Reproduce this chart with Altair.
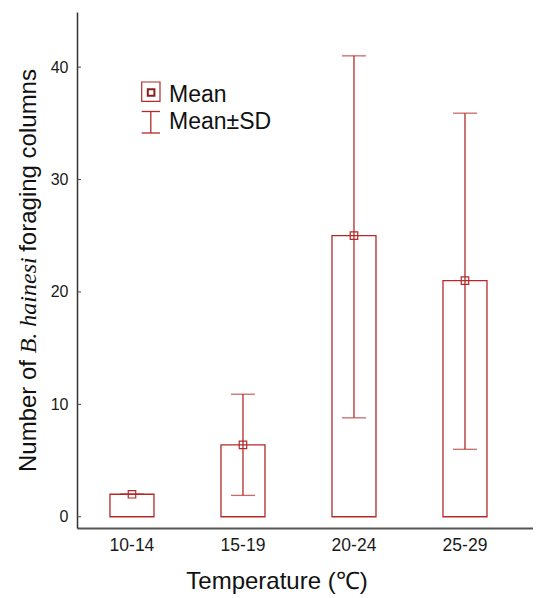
import altair as alt
import pandas as pd

# ---- data ----
categories = ["10-14", "15-19", "20-24", "25-29"]
means = [2.0, 6.4, 25.0, 21.0]
sd_low = [2.0, 1.9, 8.8, 6.0]
sd_high = [2.0, 10.9, 41.0, 35.9]
y_ticks = [0, 10, 20, 30, 40]

df = pd.DataFrame({"cat": categories, "mean": means, "lo": sd_low, "hi": sd_high})
ticks_df = pd.DataFrame({"v": y_ticks})

RED = "#B22A2A"
DARK_RED = "#8B1C1C"
FONT = "Liberation Sans"
W, H = 456, 516

xscale = alt.Scale(domain=categories, paddingInner=0.6, paddingOuter=0.354, align=0.417)
yscale = alt.Scale(domain=[-1, 44.9], nice=False, zero=False)

x_enc = alt.X("cat:N", scale=xscale, sort=categories,
              axis=alt.Axis(title=None, labelAngle=0, ticks=False, tickSize=0,
                            labelPadding=8, labelFontSize=17.5, labelFont=FONT,
                            labelColor="#1a1a1a", domainColor="#555555",
                            domainWidth=2))
y_axis = alt.Axis(title=None, values=y_ticks, ticks=False, tickSize=0,
                  labelPadding=9, labelFontSize=16, labelFont=FONT,
                  labelColor="#1a1a1a", domainColor="#333333", domainWidth=1.5,
                  grid=False)

base = alt.Chart(df)

bars = base.mark_bar(fill="white", fillOpacity=0, stroke=RED, strokeWidth=1.3,
                     size=44).encode(
    x=x_enc,
    y=alt.Y("mean:Q", scale=yscale, axis=y_axis),
    y2=alt.value(H),
)

err = base.mark_rule(color=RED, strokeWidth=1.3).encode(
    x=alt.X("cat:N", scale=xscale, sort=categories),
    y=alt.Y("lo:Q", scale=yscale),
    y2="hi:Q",
)

cap_hi = base.mark_tick(color=RED, thickness=1.3, size=24).encode(
    x=alt.X("cat:N", scale=xscale, sort=categories),
    y=alt.Y("hi:Q", scale=yscale),
)
cap_lo = base.mark_tick(color=RED, thickness=1.3, size=24).encode(
    x=alt.X("cat:N", scale=xscale, sort=categories),
    y=alt.Y("lo:Q", scale=yscale),
)

pts = base.mark_point(shape="square", filled=False, color=RED, size=56,
                      strokeWidth=1.2, opacity=1).encode(
    x=alt.X("cat:N", scale=xscale, sort=categories),
    y=alt.Y("mean:Q", scale=yscale),
)

ytick_marks = alt.Chart(ticks_df).mark_rule(color="#444444", strokeWidth=1).encode(
    y=alt.Y("v:Q", scale=yscale),
    x=alt.value(0), x2=alt.value(4),
)

one = pd.DataFrame({"k": [0]})

def txt(s, x, y, **kw):
    return alt.Chart(one).mark_text(**kw).encode(
        x=alt.value(x), y=alt.value(y), text=alt.value(s))

# legend
leg_box = alt.Chart(one).mark_rect(fill="white", fillOpacity=0, stroke=RED,
                                   strokeWidth=1.2).encode(
    x=alt.value(64.7), x2=alt.value(83), y=alt.value(70), y2=alt.value(89.3))
leg_inner = alt.Chart(one).mark_rect(fill="white", fillOpacity=0, stroke=DARK_RED,
                                     strokeWidth=2).encode(
    x=alt.value(70.8), x2=alt.value(77.4), y=alt.value(77.3), y2=alt.value(83.7))
leg_v = alt.Chart(one).mark_rule(color=RED, strokeWidth=1.3).encode(
    x=alt.value(73.8), y=alt.value(99.5), y2=alt.value(121))
leg_t = alt.Chart(one).mark_rule(color=RED, strokeWidth=1.3).encode(
    x=alt.value(64.7), x2=alt.value(83), y=alt.value(99.5))
leg_b = alt.Chart(one).mark_rule(color=RED, strokeWidth=1.3).encode(
    x=alt.value(64.7), x2=alt.value(83), y=alt.value(121))
leg_txt1 = txt("Mean", 92, 83, align="left", baseline="middle", font=FONT,
               fontSize=23, color="#111111")
leg_txt2 = txt("Mean±SD", 92, 110, align="left", baseline="middle", font=FONT,
               fontSize=23, color="#111111")

# y title (mixed styles)
yt1 = txt("Number of", -41.3, 460, angle=270, align="left", baseline="alphabetic",
          font=FONT, fontSize=24, color="#111111")
yt2 = txt("B. hainesi", -41.3, 341.3, angle=270, align="left", baseline="alphabetic",
          font="Liberation Serif", fontStyle="italic", fontSize=24, color="#111111")
yt3 = txt("foraging columns", -41.3, 239.8, angle=270, align="left",
          baseline="alphabetic", font=FONT, fontSize=24, color="#111111")

# x title
xt = txt("Temperature (℃)", 200, 570, align="center", baseline="middle",
         font=FONT, fontSize=24, color="#111111")

chart = alt.layer(
    bars, err, cap_hi, cap_lo, pts, ytick_marks,
    leg_box, leg_inner, leg_v, leg_t, leg_b, leg_txt1, leg_txt2,
    yt1, yt2, yt3, xt,
).properties(
    width=W, height=H,
    autosize=alt.AutoSizeParams(type="none"),
    padding={"left": 69, "top": 4, "right": 0, "bottom": 66},
    background="white",
).configure_view(stroke=None).configure_axis(grid=False)

chart.save("out.html", embed_options={"renderer": "svg", "actions": False})
